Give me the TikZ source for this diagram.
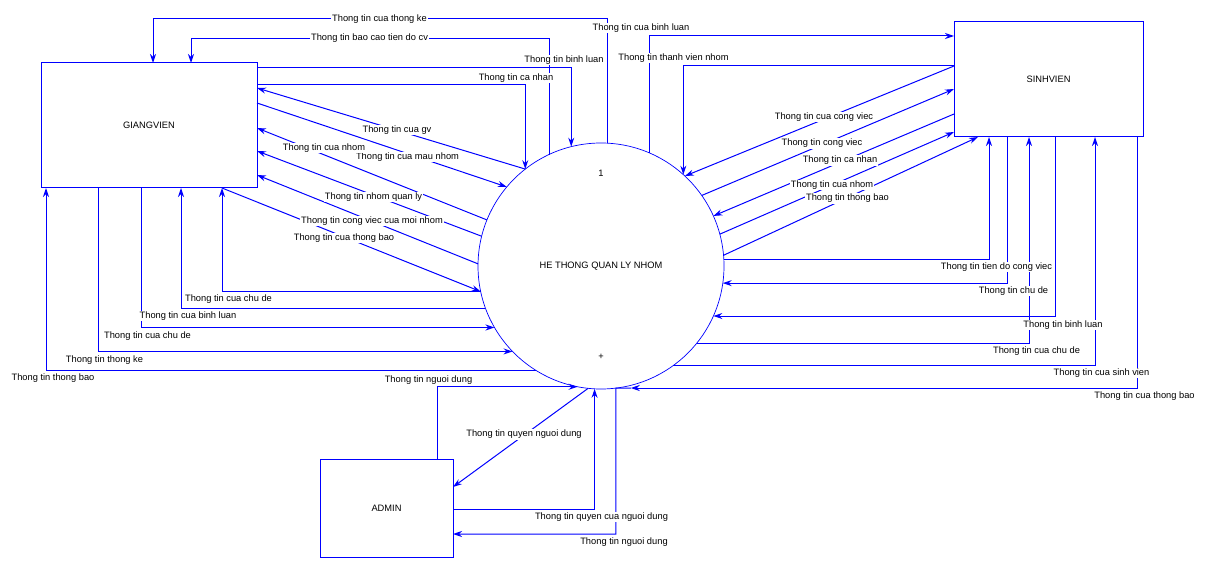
\documentclass[tikz,border=0pt]{standalone}
\usepackage{fontspec}
\setmainfont{Liberation Sans}
\usetikzlibrary{arrows.meta}
\definecolor{dfdblue}{RGB}{0,0,255}
\newcommand{\dfdfont}{\fontsize{9.3}{11}\selectfont}
\tikzset{%
    entity/.style={inner sep=0pt,outer sep=0pt,shape=rectangle,draw=dfdblue,line width=1pt,font=\dfdfont},
    process/.style={inner sep=0pt,outer sep=0pt,shape=circle,draw=dfdblue,line width=0.7pt,minimum size=246pt,font=\dfdfont},
    flow/.style={draw=dfdblue,line width=1pt,-{Stealth[length=9pt,width=6pt,inset=3pt]}},
    flowlabel/.style={fill=white,inner sep=1pt,font=\dfdfont},
}

\begin{document}
\begin{tikzpicture}[x=1pt,y=-1pt]
      \useasboundingbox (0,0) rectangle (1221,580);
      \node [entity,minimum width=216pt,minimum height=125pt] (gv) at (149,125.5) {GIANGVIEN};
      \node [entity,minimum width=189pt,minimum height=115pt] (sv) at (1048.5,79.5) {SINHVIEN};
      \node [entity,minimum width=133pt,minimum height=98pt] (ad) at (386.5,508) {ADMIN};
      \node [process] (ht) at (601,266) {HE THONG QUAN LY NHOM};
      \node [font=\dfdfont] (num) at (601,173) {1};
      \node [font=\dfdfont] (plus) at (601,357) {+};

      % GIANGVIEN
      \draw [flow] (ht.87) |- (153,19) -- (gv.north -| 153,0);
      \draw [flow] (ht.115) |- (191,39) -- (gv.north -| 191,0);
      \draw [flow] (gv.east |- 0,68) -| (ht.104);
      \draw [flow] (gv.east |- 0,85) -| (ht.128);
      \draw [flow] (ht.128) -- (gv.east |- 0,88);
      \draw [flow] (gv.east |- 0,103) -- (ht.140);
      \draw [flow] (ht.158) -- (gv.east |- 0,128);
      \draw [flow] (ht.166) -- (gv.east |- 0,151);
      \draw [flow] (ht.179) -- (gv.east |- 0,175);
      \draw [flow] (gv.south -| 222,0) -- (ht.192);
      \draw [flow] (ht.192) -| (gv.south -| 222,0);
      \draw [flow] (ht.200) -| (gv.south -| 181,0);
      \draw [flow] (gv.south -| 141,0) |- (ht.210);
      \draw [flow] (gv.south -| 98,0) |- (ht.224);
      \draw [flow] (ht.238) -| (gv.south -| 46,0);

      % ADMIN
      \draw [flow] (ad.north -| 437,0) |- (ht.259);
      \draw [flow] (ht.264) -- (ad.east |- 0,487);
      \draw [flow] (ad.east |- 0,509) -| (ht.267);
      \draw [flow] (ht.284 |- 0,388) -- (ht.277) |- (ad.east |- 0,534);

      % SINHVIEN
      \draw [flow] (ht.67) |- (sv.west |- 0,36);
      \draw [flow] (sv.west |- 0,66) -| (ht.48);
      \draw [flow] (sv.west |- 0,66) -- (ht.47);
      \draw [flow] (ht.35) -- (sv.west |- 0,89);
      \draw [flow] (sv.west |- 0,114) -- (ht.24);
      \draw [flow] (ht.15) -- (sv.west |- 0,132);
      \draw [flow] (ht.5) -- (sv.south -| 978,0);
      \draw [flow] (ht.3) -| (sv.south -| 989,0);
      \draw [flow] (sv.south -| 1007,0) |- (ht.352);
      \draw [flow] (ht.321) -| (sv.south -| 1029,0);
      \draw [flow] (sv.south -| 1055,0) |- (ht.336);
      \draw [flow] (ht.306) -| (sv.south -| 1095,0);
      \draw [flow] (sv.south -| 1137,0) |- (ht.284 |- 0,388);

      % labels
      \node [flowlabel] (gvthongke) at (379.5,19) {Thong tin cua thong ke};
      \node [flowlabel] (gvbaocao) at (369.5,38.5) {Thong tin bao cao tien do cv};
      \node [flowlabel] (gvbinhluan) at (564,60) {Thong tin binh luan};
      \node [flowlabel] (gvcanhan) at (516,78) {Thong tin ca nhan};
      \node [flowlabel] (gvcuagv) at (397,130) {Thong tin cua gv};
      \node [flowlabel] (gvmaunhom) at (407.5,157) {Thong tin cua mau nhom};
      \node [flowlabel] (gvcuanhom) at (324,148) {Thong tin cua nhom};
      \node [flowlabel] (gvquanly) at (373.5,197) {Thong tin nhom quan ly};
      \node [flowlabel] (gvmoinhom) at (372,221) {Thong tin cong viec cua moi nhom};
      \node [flowlabel] (gvthongbao) at (344,238) {Thong tin cua thong bao};
      \node [flowlabel] (gvchude) at (228.5,299.5) {Thong tin cua chu de};
      \node [flowlabel] (gvcuabl) at (188,316) {Thong tin cua binh luan};
      \node [flowlabel] (gvchude2) at (147.5,336) {Thong tin cua chu de};
      \node [flowlabel] (gvtke) at (104.5,360) {Thong tin thong ke};
      \node [flowlabel] (gvtbao) at (53,378) {Thong tin thong bao};
      \node [flowlabel] (adnguoidung) at (428.5,380) {Thong tin nguoi dung};
      \node [flowlabel] (adquyen) at (524,434.5) {Thong tin quyen nguoi dung};
      \node [flowlabel] (adquyencua) at (601.5,517) {Thong tin quyen cua nguoi dung};
      \node [flowlabel] (adnguoidung2) at (624,542) {Thong tin nguoi dung};
      \node [flowlabel] (svcuabl) at (641,28) {Thong tin cua binh luan};
      \node [flowlabel] (svthanhvien) at (673.5,58) {Thong tin thanh vien nhom};
      \node [flowlabel] (svcuacv) at (824,117) {Thong tin cua cong viec};
      \node [flowlabel] (svcongviec) at (822,143.5) {Thong tin cong viec};
      \node [flowlabel] (svcanhan) at (840,160.5) {Thong tin ca nhan};
      \node [flowlabel] (svcuanhom) at (832,185) {Thong tin cua nhom};
      \node [flowlabel] (svthongbao) at (847.5,198.5) {Thong tin thong bao};
      \node [flowlabel] (svtiendo) at (996.5,267) {Thong tin tien do cong viec};
      \node [flowlabel] (svchude) at (1013.5,291) {Thong tin chu de};
      \node [flowlabel] (svbinhluan) at (1063,325) {Thong tin binh luan};
      \node [flowlabel] (svcuachude) at (1036.5,351) {Thong tin cua chu de};
      \node [flowlabel] (svsinhvien) at (1101.5,373) {Thong tin cua sinh vien};
      \node [flowlabel] (svthongbao2) at (1144.5,396) {Thong tin cua thong bao};
\end{tikzpicture}
\end{document}
